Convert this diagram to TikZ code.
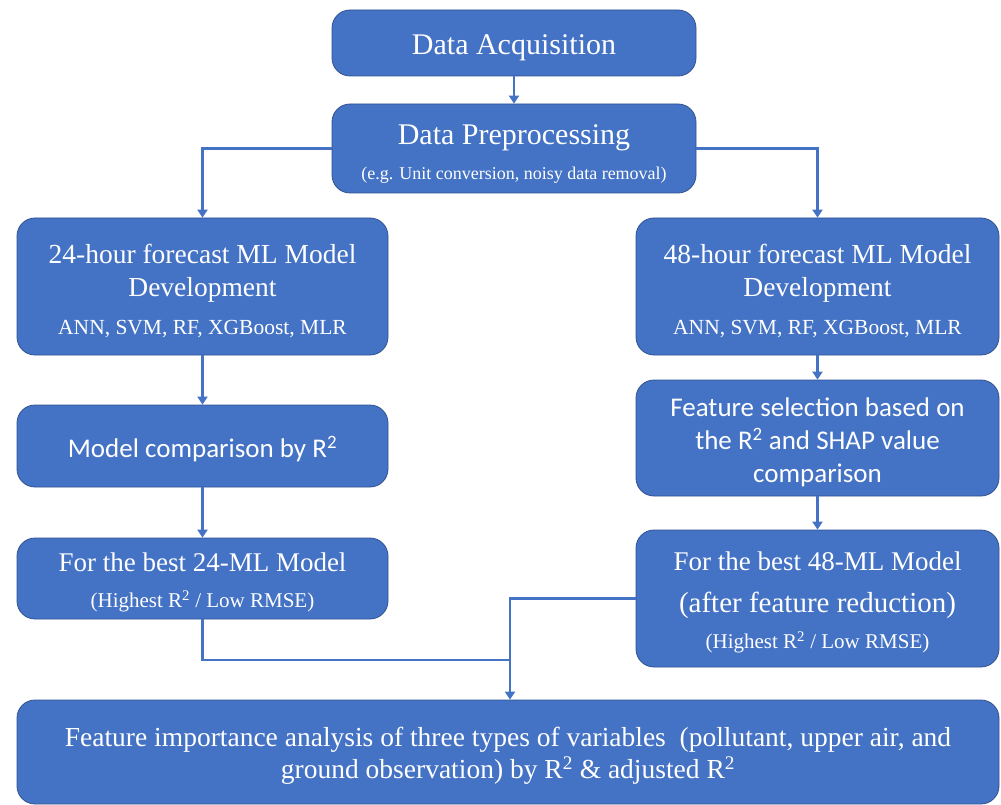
\documentclass[tikz,border=0pt]{standalone}
\usepackage{fontspec}
\setmainfont{Liberation Serif}
\newfontfamily\calibri{Carlito}
\usepackage{tikz}
\usetikzlibrary{positioning,arrows.meta}
\definecolor{boxblue}{HTML}{4472C4}
\definecolor{boxedge}{HTML}{2F528F}
\newcommand\toppad{\rule{0pt}{1em}}

\begin{document}
\begin{tikzpicture}[x=1pt, y=-1pt,
    stage/.style={draw=boxedge, line width=0.8pt, fill=boxblue, rounded corners=18pt,
        text=white, align=center, inner sep=0pt},
    flow/.style={draw=boxblue, line width=2.6pt, -{Triangle[length=8pt,width=10pt]}},
    link/.style={draw=boxblue, line width=2.6pt}]
    \useasboundingbox (0,0) rectangle (1001,805);

    % Top stages
    \node[stage, minimum width=364pt, minimum height=66pt, font=\fontsize{30}{36}\selectfont]
        (acq) at (514, 43) {\toppad Data Acquisition};
    \node[stage, minimum width=364pt, minimum height=89pt, font=\fontsize{30}{35}\selectfont]
        (prep) at (514, 148.5) {\toppad Data Preprocessing\\
        {\fontsize{18}{21}\selectfont (e.g. Unit conversion, noisy data removal)}};

    % 24-hour branch
    \node[stage, minimum width=371pt, minimum height=137pt, font=\fontsize{27.5}{33}\selectfont]
        (dev24) at (202.5, 286.5) {\toppad 24-hour forecast ML Model\\ Development\\[5pt]
        {\fontsize{21.5}{25}\selectfont ANN, SVM, RF, XGBoost, MLR}};
    \node[stage, minimum width=371pt, minimum height=82pt, font=\calibri\fontsize{27}{33}\selectfont]
        (cmp24) at (202.5, 446) {\toppad Model comparison by R\textsuperscript{2}};
    \node[stage, minimum width=371pt, minimum height=81pt, font=\fontsize{27}{36}\selectfont]
        (best24) at (202.5, 578.5) {\toppad For the best 24-ML Model\\
        {\fontsize{21}{25}\selectfont (Highest R\textsuperscript{2} / Low RMSE)}};

    % 48-hour branch
    \node[stage, minimum width=363pt, minimum height=137pt, font=\fontsize{27.5}{33}\selectfont]
        (dev48) at (817.5, 286.5) {\toppad 48-hour forecast ML Model\\ Development\\[5pt]
        {\fontsize{21.5}{25}\selectfont ANN, SVM, RF, XGBoost, MLR}};
    \node[stage, minimum width=363pt, minimum height=116pt, font=\calibri\fontsize{27}{33}\selectfont]
        (sel48) at (817.5, 438) {\toppad Feature selection based on\\ the R\textsuperscript{2} and SHAP value\\ comparison};
    \node[stage, minimum width=363pt, minimum height=137pt, font=\fontsize{27}{36}\selectfont]
        (best48) at (817.5, 598.5) {\toppad For the best 48-ML Model\\[6pt]
        {\fontsize{29}{36}\selectfont (after feature reduction)}\\
        {\fontsize{21}{25}\selectfont (Highest R\textsuperscript{2} / Low RMSE)}};

    % Final analysis
    \node[stage, minimum width=982pt, minimum height=104pt, font=\fontsize{27.5}{32}\selectfont]
        (imp) at (508, 752) {\toppad Feature importance analysis of three types of variables\ \ (pollutant, upper air, and\\
        ground observation) by R\textsuperscript{2} \& adjusted R\textsuperscript{2}};

    % Connectors
    \coordinate (merge) at (510, 598.5);
    \coordinate (meet) at (510, 660);
    \draw[flow] (acq) -- (prep);
    \draw[flow] (prep.west) -| (dev24.north);
    \draw[flow] (prep.east) -| (dev48.north);
    \draw[flow] (dev24) -- (cmp24);
    \draw[flow] (cmp24) -- (best24);
    \draw[flow] (dev48) -- (sel48);
    \draw[flow] (sel48) -- (best48);
    \draw[link] (best24.south) |- (meet);
    \draw[flow] (best48.west) -| (imp.north -| merge);

\end{tikzpicture}
\end{document}
